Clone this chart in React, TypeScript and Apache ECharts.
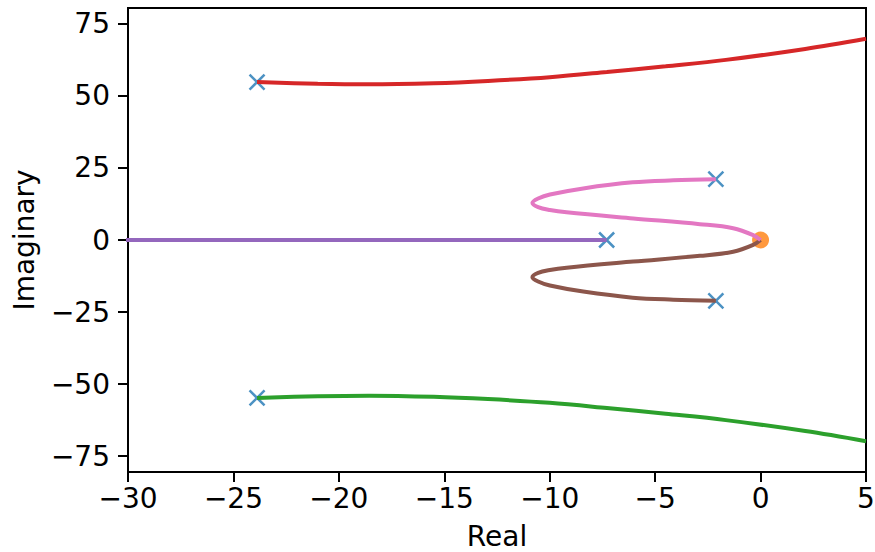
import React, { useEffect, useRef } from "react";
import * as echarts from "echarts";

// Open-loop poles (blue crosses) and zero (orange dot)
const poles: [number, number][] = [
  [-23.88, 54.8],
  [-23.88, -54.8],
  [-2.12, 21.1],
  [-2.12, -21.1],
  [-7.3, 0],
];
const zeros: [number, number][] = [[0, 0]];

// Root-locus branches [real, imaginary]
const branchRed: [number, number][] = [
  [-23.88, 54.8], [-21, 54.2], [-18.57, 54.0], [-15.5, 54.4], [-12.93, 55.2],
  [-10, 56.5], [-7.29, 58.3], [-4.5, 60.3], [-1.65, 62.5], [2.12, 66.3], [5, 69.8],
];
const branchGreen: [number, number][] = [
  [-23.88, -54.8], [-21, -54.2], [-18.57, -54.0], [-15.5, -54.4], [-12.93, -55.2],
  [-10, -56.5], [-7.29, -58.3], [-4.5, -60.3], [-1.65, -62.5], [2.12, -66.3], [5, -69.8],
];
const branchPurple: [number, number][] = [
  [-7.3, 0], [-35, 0],
];
const branchPink: [number, number][] = [
  [-2.12, 21.1], [-4.14, 20.7], [-6.06, 20.0], [-8.41, 17.9], [-9.99, 15.8],
  [-10.55, 14.4], [-10.82, 12.9], [-10.55, 11.4], [-9.99, 10.4], [-9.2, 9.6],
  [-6.04, 7.5], [-2.88, 5.5], [-1.3, 4.1], [-0.35, 1.7], [0, 0],
];
const branchBrown: [number, number][] = [
  [-2.12, -21.1], [-4.14, -20.7], [-6.06, -20.0], [-8.41, -17.9], [-9.99, -15.8],
  [-10.55, -14.4], [-10.82, -12.9], [-10.55, -11.4], [-9.99, -10.4], [-9.2, -9.6],
  [-6.04, -7.5], [-2.88, -5.5], [-1.3, -4.1], [-0.35, -1.7], [0, 0],
];

const yTicks = [-75, -50, -25, 0, 25, 50, 75];

const FONT = "DejaVu Sans";
const minus = (v: number) => String(v).replace("-", "\u2212");

export default function App() {
  const ref = useRef<HTMLDivElement>(null);
  useEffect(() => {
    if (!ref.current) return;
    const chart = echarts.init(ref.current, undefined, { renderer: "svg" });
    const lineSeries = (data: [number, number][], color: string) => ({
      type: "line",
      data,
      showSymbol: false,
      smooth: 0.35,
      lineStyle: { color, width: 4 },
      itemStyle: { color },
      clip: true,
      z: 3,
    });
    chart.setOption({
      animation: false,
      grid: {
        left: 128,
        right: 9,
        top: 8,
        bottom: 80,
        outerBoundsMode: "none",
        containLabel: false,
        show: true,
        borderColor: "#000",
        borderWidth: 2,
        backgroundColor: "transparent",
      },
      xAxis: {
        type: "value",
        min: -30,
        max: 5,
        interval: 5,
        name: "Real",
        nameLocation: "middle",
        nameGap: 50,
        nameTextStyle: { fontFamily: FONT, fontSize: 28, lineHeight: 28, color: "#000" },
        axisLine: { show: true, onZero: false, lineStyle: { color: "#000", width: 2 } },
        axisTick: { show: true, length: 10, lineStyle: { color: "#000", width: 2 } },
        axisLabel: { fontFamily: FONT, fontSize: 28, color: "#000", margin: 12, formatter: (v: number) => minus(v) },
        splitLine: { show: false },
      },
      yAxis: {
        type: "value",
        min: -80.5,
        max: 80.5,
        name: "Imaginary",
        nameLocation: "middle",
        nameGap: 90,
        nameTextStyle: { fontFamily: FONT, fontSize: 28, color: "#000" },
        axisLine: { show: true, onZero: false, lineStyle: { color: "#000", width: 2 } },
        axisTick: { show: true, length: 10, customValues: yTicks, lineStyle: { color: "#000", width: 2 } },
        axisLabel: {
          fontFamily: FONT,
          fontSize: 28,
          color: "#000",
          margin: 18,
          customValues: yTicks,
          formatter: (v: number) => minus(v),
        },
        splitLine: { show: false },
      },
      series: [
        {
          type: "scatter",
          data: poles,
          symbol: "path://M0,0L10,10M10,0L0,10",
          symbolSize: 15,
          itemStyle: { color: "#1f77b4", borderColor: "#1f77b4", borderWidth: 2.5 },
          z: 2,
        },
        {
          type: "scatter",
          data: zeros,
          symbol: "circle",
          symbolSize: 17,
          itemStyle: { color: "#ff7f0e" },
          z: 2,
        },
        lineSeries(branchGreen, "#2ca02c"),
        lineSeries(branchRed, "#d62728"),
        lineSeries(branchPurple, "#9467bd"),
        lineSeries(branchBrown, "#8c564b"),
        lineSeries(branchPink, "#e377c2"),
      ],
    });
    return () => chart.dispose();
  }, []);
  return (
    <div
      ref={ref}
      style={{ position: "fixed", left: 0, top: 0, width: 875, height: 552, background: "#fff" }}
    />
  );
}
